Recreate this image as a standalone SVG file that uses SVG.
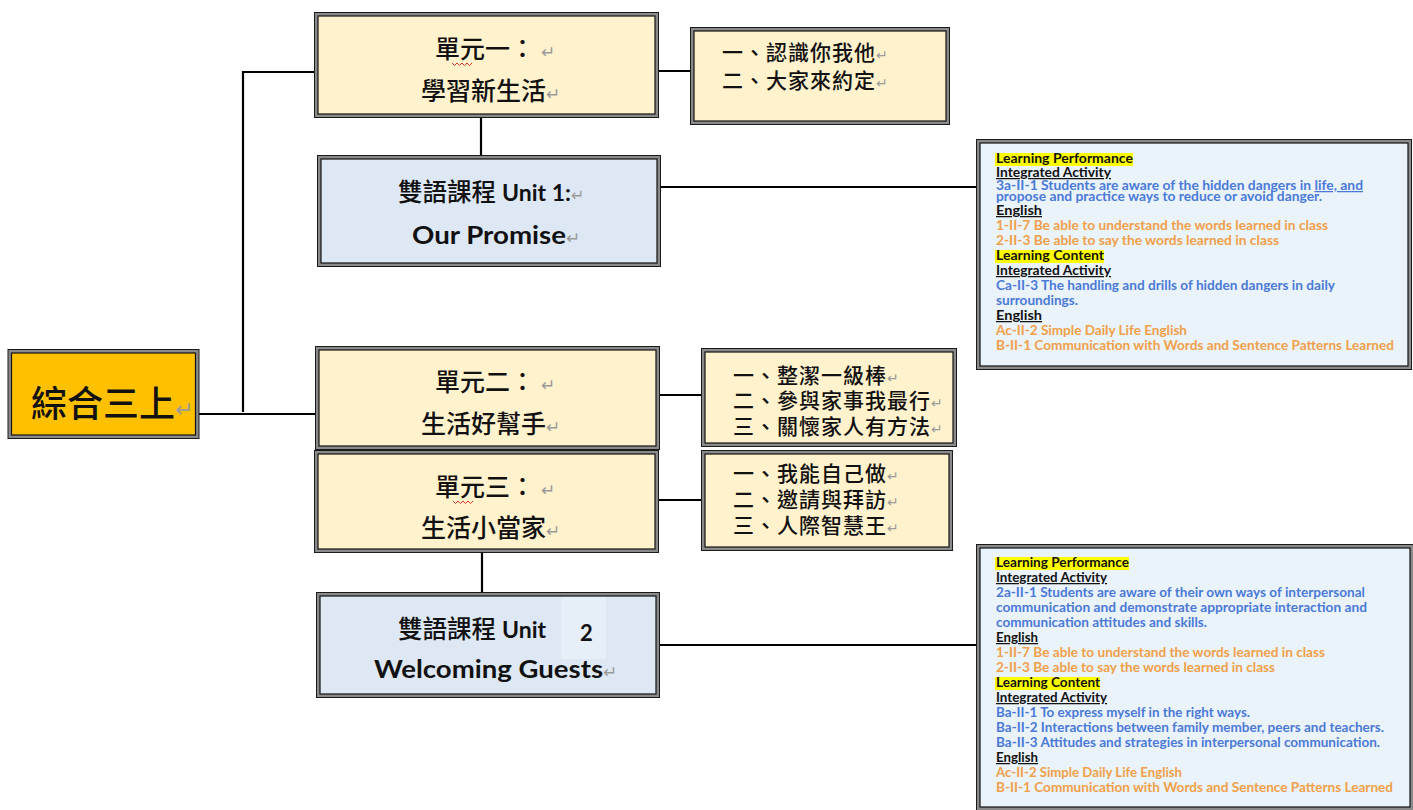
<svg xmlns="http://www.w3.org/2000/svg" width="1413" height="810" viewBox="0 0 1413 810">
<defs>
<style>
.o{fill:#8a8a8a;stroke:#1a1a1a;stroke-width:1}
.i{stroke:#111;stroke-width:1.2}
.cream{fill:#fff2cc}
.blue{fill:#dde8f4}
.gold{fill:#ffc000}
.pale{fill:#eaf2fa}
.zh{font-family:"Noto Sans CJK TC","Noto Sans CJK SC",sans-serif;font-weight:500;fill:#111}
.en{font-family:Lato,"Open Sans","Liberation Sans",sans-serif;font-weight:bold;fill:#111}
.pm{font-family:"DejaVu Sans",sans-serif;font-weight:normal;fill:#9a9a9a}
.t{font-family:Lato,"Open Sans","Liberation Sans",sans-serif;font-weight:bold;font-size:12.5px}
.k{fill:#111}
.u{fill:#111;text-decoration:underline}
.b{fill:#4a7ad8}
.r{fill:#f0a048}
.hl{fill:#ffff00}
.c{stroke:#000;stroke-width:2.2;fill:none}
.sq{stroke:#e03030;stroke-width:1;fill:none}
</style>
</defs>
<rect width="1413" height="810" fill="#ffffff"/>

<g id="connectors">
<path class="c" d="M243 71 V412"/>
<path class="c" d="M243 72 H316"/>
<path class="c" d="M198 414 H317"/>
<path class="c" d="M658 71 H692"/>
<path class="c" d="M481 116 V156"/>
<path class="c" d="M660 187 H977"/>
<path class="c" d="M659 395 H703"/>
<path class="c" d="M658 500 H703"/>
<path class="c" d="M482 552 V593"/>
<path class="c" d="M659 645 H977"/>
</g>

<g id="root">
<rect class="o" x="8" y="349.5" width="191" height="89"/>
<rect class="i gold" x="11.5" y="353" width="184" height="82"/>
<text class="zh" x="31" y="417" font-size="36">綜合三上<tspan class="pm" font-size="22">↵</tspan></text>
</g>

<g id="unit1">
<rect class="o" x="314.5" y="12.5" width="344" height="105"/>
<rect class="i cream" x="318" y="16" width="337" height="98"/>
<text class="zh" x="435" y="58" font-size="25">單元一：<tspan class="pm" font-size="17" dx="6">↵</tspan></text>
<path class="sq" d="M452 63 l2.5 2.5 l2.5 -2.5 l2.5 2.5 l2.5 -2.5 l2.5 2.5 l2.5 -2.5 l2.5 2.5 l2.5 -2.5"/>
<text class="zh" x="421" y="100" font-size="25">學習新生活<tspan class="pm" font-size="17">↵</tspan></text>
</g>

<g id="unit1-topics">
<rect class="o" x="690.5" y="27.5" width="259" height="97"/>
<rect class="i cream" x="694" y="31" width="252" height="90"/>
<text class="zh" x="722" y="60" font-size="21" letter-spacing="1">一、認識你我他<tspan class="pm" font-size="14">↵</tspan></text>
<text class="zh" x="722" y="88" font-size="21" letter-spacing="1">二、大家來約定<tspan class="pm" font-size="14">↵</tspan></text>
</g>

<g id="bilingual1">
<rect class="o" x="317.5" y="155.5" width="343" height="111"/>
<rect class="i blue" x="321" y="159" width="336" height="104"/>
<text x="398" y="201"><tspan class="zh" font-size="24.5">雙語課程</tspan><tspan class="en" font-size="23" dx="6">Unit 1:</tspan><tspan class="pm" font-size="16">↵</tspan></text>
<text x="412" y="244"><tspan class="en" font-size="25" textLength="154" lengthAdjust="spacingAndGlyphs">Our Promise</tspan><tspan class="pm" font-size="17">↵</tspan></text>
</g>

<g id="outcomes1">
<rect class="o" x="976.5" y="139.5" width="435" height="230"/>
<rect class="i pale" x="980" y="143" width="428" height="223"/>
<rect class="hl" x="995" y="153" width="138" height="13"/>
<text class="t k" x="996" y="163" textLength="137" lengthAdjust="spacingAndGlyphs">Learning Performance</text>
<text class="t u" x="996" y="177" textLength="115" lengthAdjust="spacingAndGlyphs">Integrated Activity</text>
<text class="t b" x="996" y="190" font-size="11.5" textLength="367" lengthAdjust="spacingAndGlyphs">3a-II-1   Students are aware of the hidden dangers in <tspan text-decoration="underline">life, and</tspan></text>
<text class="t b" x="996" y="201" font-size="11.5" textLength="326" lengthAdjust="spacingAndGlyphs">propose and practice ways to reduce or avoid danger.</text>
<text class="t u" x="996" y="215" textLength="46" lengthAdjust="spacingAndGlyphs">English</text>
<text class="t r" x="996" y="230" textLength="332" lengthAdjust="spacingAndGlyphs">1-II-7 Be able to understand the words learned in class</text>
<text class="t r" x="996" y="245" textLength="283" lengthAdjust="spacingAndGlyphs">2-II-3 Be able to say the words learned in class</text>
<rect class="hl" x="995" y="250" width="109" height="13"/>
<text class="t k" x="996" y="260" textLength="108" lengthAdjust="spacingAndGlyphs">Learning Content</text>
<text class="t u" x="996" y="275" textLength="115" lengthAdjust="spacingAndGlyphs">Integrated Activity</text>
<text class="t b" x="996" y="290" textLength="339" lengthAdjust="spacingAndGlyphs">Ca-II-3 The handling and drills of hidden dangers in daily</text>
<text class="t b" x="996" y="305" textLength="82" lengthAdjust="spacingAndGlyphs">surroundings.</text>
<text class="t u" x="996" y="320" textLength="46" lengthAdjust="spacingAndGlyphs">English</text>
<text class="t r" x="996" y="335" textLength="191" lengthAdjust="spacingAndGlyphs">Ac-II-2 Simple Daily Life English</text>
<text class="t r" x="996" y="350" textLength="398" lengthAdjust="spacingAndGlyphs">B-II-1 Communication with Words and Sentence Patterns Learned</text>
</g>

<g id="unit2">
<rect class="o" x="315.5" y="346.5" width="344" height="103"/>
<rect class="i cream" x="319" y="350" width="337" height="96"/>
<text class="zh" x="435" y="391" font-size="25">單元二：<tspan class="pm" font-size="17" dx="6">↵</tspan></text>
<text class="zh" x="421" y="433" font-size="25">生活好幫手<tspan class="pm" font-size="17">↵</tspan></text>
</g>

<g id="unit2-topics">
<rect class="o" x="701.5" y="348.5" width="255" height="98"/>
<rect class="i cream" x="705" y="352" width="248" height="91"/>
<text class="zh" x="733" y="383" font-size="21" letter-spacing="1">一、整潔一級棒<tspan class="pm" font-size="14">↵</tspan></text>
<text class="zh" x="733" y="408" font-size="21" letter-spacing="1">二、參與家事我最行<tspan class="pm" font-size="14">↵</tspan></text>
<text class="zh" x="733" y="434" font-size="21" letter-spacing="1">三、關懷家人有方法<tspan class="pm" font-size="14">↵</tspan></text>
</g>

<g id="unit3">
<rect class="o" x="314.5" y="450.5" width="344" height="102"/>
<rect class="i cream" x="318" y="454" width="337" height="95"/>
<text class="zh" x="435" y="496" font-size="25">單元三：<tspan class="pm" font-size="17" dx="6">↵</tspan></text>
<path class="sq" d="M453 501 l2.5 2.5 l2.5 -2.5 l2.5 2.5 l2.5 -2.5 l2.5 2.5 l2.5 -2.5 l2.5 2.5 l2.5 -2.5"/>
<text class="zh" x="421" y="537" font-size="25">生活小當家<tspan class="pm" font-size="17">↵</tspan></text>
</g>

<g id="unit3-topics">
<rect class="o" x="701.5" y="450.5" width="251" height="100"/>
<rect class="i cream" x="705" y="454" width="244" height="93"/>
<text class="zh" x="733" y="481" font-size="21" letter-spacing="1">一、我能自己做<tspan class="pm" font-size="14">↵</tspan></text>
<text class="zh" x="733" y="507" font-size="21" letter-spacing="1">二、邀請與拜訪<tspan class="pm" font-size="14">↵</tspan></text>
<text class="zh" x="733" y="533" font-size="21" letter-spacing="1">三、人際智慧王<tspan class="pm" font-size="14">↵</tspan></text>
</g>

<g id="bilingual2">
<rect class="o" x="316.5" y="592.5" width="343" height="105"/>
<rect class="i blue" x="320" y="596" width="336" height="98"/>
<rect x="561" y="597" width="45" height="62" fill="#e6eef8"/>
<text x="398" y="638"><tspan class="zh" font-size="24.5">雙語課程</tspan><tspan class="en" font-size="23" dx="6">Unit</tspan></text>
<text class="en" x="580" y="641" font-size="22">2</text>
<text x="374" y="678"><tspan class="en" font-size="25" textLength="229" lengthAdjust="spacingAndGlyphs">Welcoming Guests</tspan><tspan class="pm" font-size="17">↵</tspan></text>
</g>

<g id="outcomes2">
<rect class="o" x="976.5" y="544.5" width="437" height="266"/>
<rect class="i pale" x="980" y="548" width="430" height="259"/>
<rect class="hl" x="995" y="557" width="134" height="13"/>
<text class="t k" x="996" y="567" textLength="133" lengthAdjust="spacingAndGlyphs">Learning Performance</text>
<text class="t u" x="996" y="582" textLength="111" lengthAdjust="spacingAndGlyphs">Integrated Activity</text>
<text class="t b" x="996" y="597" textLength="369" lengthAdjust="spacingAndGlyphs">2a-II-1 Students are aware of their own ways of interpersonal</text>
<text class="t b" x="996" y="612" textLength="371" lengthAdjust="spacingAndGlyphs">communication and demonstrate appropriate interaction and</text>
<text class="t b" x="996" y="627" textLength="211" lengthAdjust="spacingAndGlyphs">communication attitudes and skills.</text>
<text class="t u" x="996" y="642" textLength="42" lengthAdjust="spacingAndGlyphs">English</text>
<text class="t r" x="996" y="657" textLength="329" lengthAdjust="spacingAndGlyphs">1-II-7 Be able to understand the words learned in class</text>
<text class="t r" x="996" y="672" textLength="279" lengthAdjust="spacingAndGlyphs">2-II-3 Be able to say the words learned in class</text>
<rect class="hl" x="995" y="677" width="105" height="13"/>
<text class="t k" x="996" y="687" textLength="104" lengthAdjust="spacingAndGlyphs">Learning Content</text>
<text class="t u" x="996" y="702" textLength="111" lengthAdjust="spacingAndGlyphs">Integrated Activity</text>
<text class="t b" x="996" y="717" textLength="254" lengthAdjust="spacingAndGlyphs">Ba-II-1 To express myself in the right ways.</text>
<text class="t b" x="996" y="732" textLength="388" lengthAdjust="spacingAndGlyphs">Ba-II-2 Interactions between family member, peers and teachers.</text>
<text class="t b" x="996" y="747" textLength="384" lengthAdjust="spacingAndGlyphs">Ba-II-3 Attitudes and strategies in interpersonal communication.</text>
<text class="t u" x="996" y="762" textLength="42" lengthAdjust="spacingAndGlyphs">English</text>
<text class="t r" x="996" y="777" textLength="186" lengthAdjust="spacingAndGlyphs">Ac-II-2 Simple Daily Life English</text>
<text class="t r" x="996" y="792" textLength="397" lengthAdjust="spacingAndGlyphs">B-II-1 Communication with Words and Sentence Patterns Learned</text>
</g>
</svg>
